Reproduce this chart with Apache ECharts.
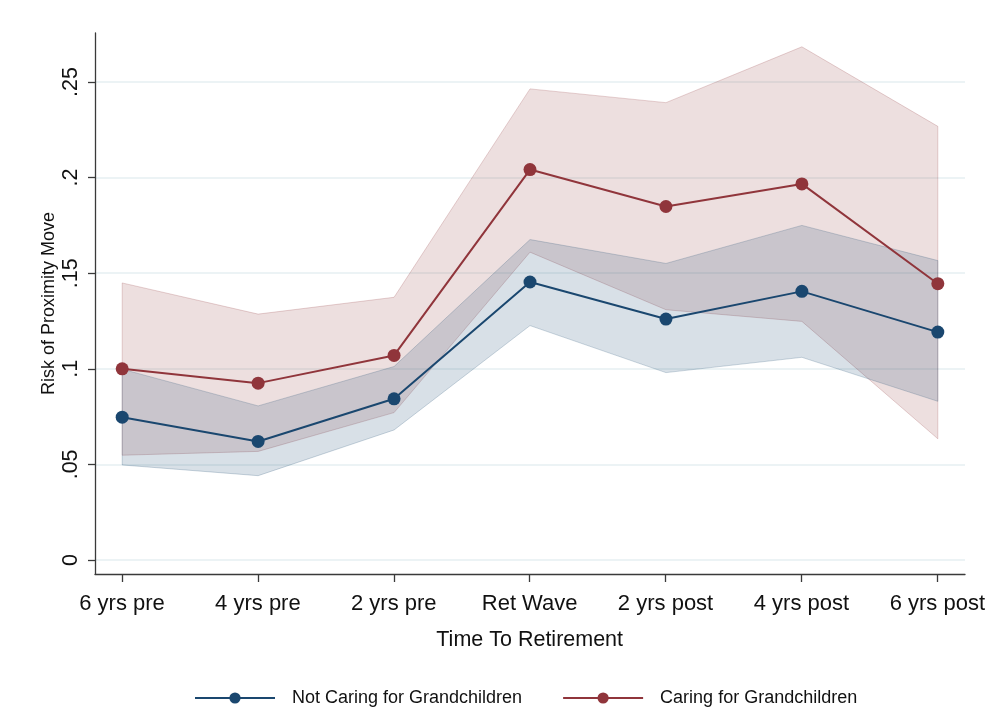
<!DOCTYPE html>
<html>
<head>
<meta charset="utf-8">
<script src="https://cdn.jsdelivr.net/npm/echarts@6/dist/echarts.min.js"></script>
<style>
  html, body { margin: 0; padding: 0; background: #ffffff; }
  #chart { width: 988px; height: 717px; }
</style>
</head>
<body>
<div id="chart"></div>
<script>
// Periods relative to the retirement wave
const periods = ['6 yrs pre', '4 yrs pre', '2 yrs pre', 'Ret Wave', '2 yrs post', '4 yrs post', '6 yrs post'];

// Predicted risk of a proximity move, with 95% confidence bounds
const notCaring   = [0.0747, 0.0620, 0.0843, 0.1454, 0.1260, 0.1405, 0.1192];
const notCaringLo = [0.0497, 0.0441, 0.0680, 0.1226, 0.0980, 0.1060, 0.0830];
const notCaringHi = [0.0998, 0.0806, 0.1012, 0.1676, 0.1551, 0.1750, 0.1566];

const caring   = [0.1000, 0.0925, 0.1070, 0.2042, 0.1849, 0.1967, 0.1445];
const caringLo = [0.0548, 0.0568, 0.0771, 0.1610, 0.1309, 0.1248, 0.0634];
const caringHi = [0.1449, 0.1286, 0.1374, 0.2464, 0.2392, 0.2684, 0.2268];

// Y axis ticks and their labels
const yTicks = [0, 0.05, 0.1, 0.15, 0.2, 0.25];
const yTickLabels = ['0', '.05', '.1', '.15', '.2', '.25'];

const seriesNames = ['Not Caring for Grandchildren', 'Caring for Grandchildren'];

const BLUE = '#1a476f';
const RED = '#90353b';
const FONT = '"Liberation Sans", Arial, sans-serif';

// Confidence band drawn as one closed polygon through the axis scales
function band(lo, hi, fill, edge) {
  return {
    type: 'custom',
    xAxisIndex: 0,
    yAxisIndex: 0,
    silent: true,
    data: lo.map((v, i) => [i, v, hi[i]]),
    renderItem: function (params, api) {
      if (params.dataIndex !== 0) return null;
      const pts = [];
      for (let i = 0; i < hi.length; i++) pts.push(api.coord([i, hi[i]]));
      for (let i = lo.length - 1; i >= 0; i--) pts.push(api.coord([i, lo[i]]));
      return {
        type: 'polygon',
        shape: { points: pts },
        style: { fill: fill, stroke: edge, lineWidth: 1 }
      };
    },
    z: 1
  };
}

function line(name, values, color) {
  return {
    name: name,
    type: 'line',
    xAxisIndex: 0,
    yAxisIndex: 0,
    data: values.map((v, i) => [i, v]),
    symbol: 'circle',
    symbolSize: 13,
    lineStyle: { color: color, width: 2 },
    itemStyle: { color: color },
    emphasis: { disabled: true },
    z: 5
  };
}

const chart = echarts.init(document.getElementById('chart'), null, { renderer: 'canvas' });

chart.setOption({
  animation: false,
  backgroundColor: '#ffffff',
  textStyle: { fontFamily: FONT },
  grid: [
    // data area: 0 .. .25
    { left: 95, right: 23, top: 82, height: 478 },
    // plot frame (axis lines)
    { left: 95, right: 23, top: 33, bottom: 143 },
    // category ticks and labels
    { left: 122, right: 50, top: 33, bottom: 143 }
  ],
  xAxis: [
    { gridIndex: 0, type: 'value', min: -0.2, max: 6.2, show: false },
    {
      gridIndex: 1, type: 'value', min: 0, max: 1,
      axisLine: { show: true, onZero: false, lineStyle: { color: '#3a3a3a', width: 1.3 } },
      axisTick: { show: false }, axisLabel: { show: false }, splitLine: { show: false }
    },
    {
      gridIndex: 2, type: 'category', data: periods, boundaryGap: false,
      axisLine: { show: false, onZero: false },
      axisTick: { show: true, length: 8, inside: false, alignWithLabel: true, lineStyle: { color: '#3a3a3a', width: 1.3 } },
      axisLabel: { show: true, color: '#111', fontSize: 22, margin: 19, fontFamily: FONT, interval: 0 },
      splitLine: { show: false },
      name: 'Time To Retirement',
      nameLocation: 'middle',
      nameGap: 55,
      nameTextStyle: { color: '#111', fontSize: 21.5, fontFamily: FONT }
    }
  ],
  yAxis: [
    {
      gridIndex: 0, type: 'value', min: 0, max: 0.25, interval: 0.05,
      axisLine: { show: false, onZero: false },
      axisTick: { show: true, length: 7, lineStyle: { color: '#3a3a3a', width: 1.3 } },
      axisLabel: {
        show: true, rotate: 90, color: '#111', fontSize: 21.5, margin: 13, fontFamily: FONT,
        formatter: function (v) {
          const k = yTicks.findIndex(t => Math.abs(t - v) < 1e-9);
          return k >= 0 ? yTickLabels[k] : '';
        }
      },
      splitLine: { show: true, lineStyle: { color: '#e6eff2', width: 1.5 } }
    },
    {
      gridIndex: 1, type: 'value', min: 0, max: 1,
      axisLine: { show: true, onZero: false, lineStyle: { color: '#3a3a3a', width: 1.3 } },
      axisTick: { show: false }, axisLabel: { show: false }, splitLine: { show: false },
      name: 'Risk of Proximity Move',
      nameLocation: 'middle',
      nameRotate: 90,
      nameGap: 37,
      nameTextStyle: { color: '#111', fontSize: 18, fontFamily: FONT }
    },
    { gridIndex: 2, type: 'value', min: 0, max: 1, show: false }
  ],
  legend: {
    data: seriesNames,
    left: 189,
    top: 684,
    itemWidth: 80,
    itemHeight: 14,
    itemGap: 40,
    textStyle: { color: '#111', fontSize: 18, fontFamily: FONT, padding: [0, 0, 0, 12] }
  },
  series: [
    band(caringLo, caringHi, 'rgba(144,53,59,0.16)', 'rgba(144,53,59,0.22)'),
    band(notCaringLo, notCaringHi, 'rgba(26,71,111,0.17)', 'rgba(26,71,111,0.22)'),
    line(seriesNames[0], notCaring, BLUE),
    line(seriesNames[1], caring, RED)
  ]
});
</script>
</body>
</html>
